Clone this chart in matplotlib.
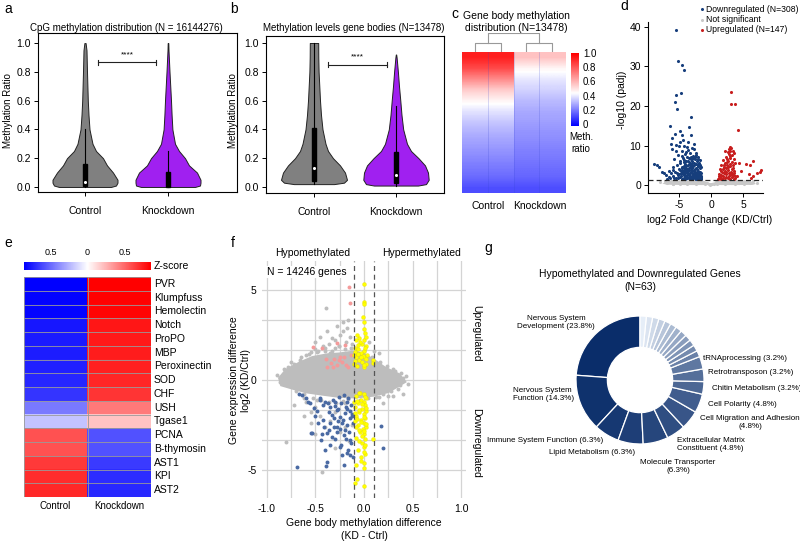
import numpy as np
import matplotlib
matplotlib.use('Agg')
import matplotlib.pyplot as plt
from matplotlib.colors import LinearSegmentedColormap
from matplotlib.patches import Rectangle

plt.rcParams['font.family'] = ['Liberation Sans', 'DejaVu Sans']
plt.rcParams['font.size'] = 7
plt.rcParams['axes.linewidth'] = 0.8

# ---- a: CpG methylation violins ----
cpg_levels = [0, 0.01, 0.03, 0.05, 0.1, 0.15, 0.2, 0.25, 0.3, 0.4, 0.5, 0.6, 0.8, 0.95, 1.0]
cpg_ctrl_w = [26, 31, 32.5, 32.5, 28, 22, 18, 11, 7.5, 4.5, 3.5, 2.8, 2.0, 1.5, 0.6]
cpg_kd_w = [27, 32, 32.5, 32.5, 29, 21, 17, 11, 7, 4.4, 3.6, 3.0, 1.5, 0.5, 0.3]
cpg_ctrl_box = [0.0, 0.01, 0.037, 0.16, 0.40]   # whisker lo, q1, median, q3, whisker hi
cpg_kd_box = [0.0, 0.0, 0.0, 0.106, 0.25]

# ---- b: gene body violins ----
gb_ctrl_levels = [0.02, 0.03, 0.05, 0.1, 0.15, 0.2, 0.25, 0.3, 0.4, 0.5, 0.6, 0.7, 0.8, 0.9, 1.0]
gb_ctrl_w = [20, 30, 33, 31, 26, 19, 14, 11.5, 8.5, 7, 6, 5.3, 4.6, 4.3, 4.2]
gb_kd_levels = [0.01, 0.02, 0.05, 0.1, 0.15, 0.2, 0.25, 0.3, 0.4, 0.5, 0.6, 0.7, 0.8, 0.9, 0.92]
gb_kd_w = [22, 30, 32.7, 32, 29, 22.5, 15, 11, 7.2, 5.5, 4.3, 3.0, 1.9, 0.6, 0.2]
gb_ctrl_box = [0.02, 0.04, 0.135, 0.41, 1.0]
gb_kd_box = [0.01, 0.03, 0.085, 0.24, 0.56]

# ---- c: gene body methylation heatmap (sorted genes, top -> bottom) ----
c_ctrl = [0.93, 0.84, 0.70, 0.56, 0.47, 0.40, 0.35, 0.31, 0.28, 0.25, 0.22, 0.19, 0.14]
c_kd = [0.58, 0.47, 0.41, 0.37, 0.33, 0.30, 0.28, 0.26, 0.24, 0.22, 0.20, 0.18, 0.14]

# ---- d: volcano ----
down_lfc = [-5.4, -5.1, -4.5, -4.2, -4.7, -5.4, -5.7, -5.3, -3.1, -6.4, -3.4, -4.9, -5.7, -4.6, -3.2, -6.1,
            -4.4, -6.3, -5.4, -5.0, -4.2, -6.1, -5.5, -4.6, -3.6, -2.9, -2.6, -3.3, -2.4, -4.0, -5.1, -3.8,
            -2.8, -2.1, -4.4, -3.1, -2.5, -3.6, -4.8, -2.2, -1.9, -2.9, -3.3, -4.1, -5.3, -2.6, -3.9, -2.0,
            -4.6, -3.0, -2.3, -1.8, -3.5, -5.0, -2.7, -4.2, -3.2, -2.1, -1.7, -5.6, -3.8, -2.5, -4.7, -2.9,
            -1.9, -3.4, -4.4, -2.2, -5.2, -3.0, -1.6, -3.9, -2.6, -4.9, -2.0, -3.5, -1.7, -4.3, -2.8, -5.5,
            -3.2, -2.3, -4.0, -1.5, -6.0, -6.6, -7.0, -7.3, -7.6, -8.1, -8.5, -8.9, -6.4, -6.8, -5.8, -3.7,
            -2.7, -4.8, -3.6, -2.3, -1.8, -1.6, -2.4, -3.6, -4.5, -3.3, -2.8, -2.0, -3.4, -4.2, -2.5, -3.8,
            -4.6, -5.0, -1.8, -2.2, -3.1, -4.1, -2.7, -3.7, -2.0, -1.6, -5.9, -6.2]
down_p = [39.3, 31.4, 30.3, 29.0, 23.3, 22.7, 21.0, 19.1, 17.1, 14.9, 14.7, 13.6, 12.9, 12.6, 12.6, 11.8,
          11.5, 10.4, 10.1, 9.8, 9.8, 9.0, 8.6, 8.5, 8.9, 9.3, 9.1, 8.2, 8.0, 7.8, 7.6, 7.2,
          7.4, 7.0, 6.9, 6.6, 6.5, 6.2, 6.0, 6.0, 5.6, 5.7, 5.4, 5.3, 5.2, 5.1, 4.8, 4.9,
          4.6, 4.5, 4.4, 4.2, 4.2, 4.0, 3.9, 3.8, 3.7, 3.6, 3.4, 3.4, 3.3, 3.2, 3.1, 3.0,
          2.9, 2.8, 2.7, 2.6, 2.5, 2.4, 2.4, 2.3, 2.2, 2.1, 2.0, 2.0, 1.8, 1.8, 1.7, 1.7,
          1.6, 1.5, 1.5, 1.5, 2.3, 2.0, 2.6, 3.0, 3.3, 4.6, 5.0, 5.4, 1.8, 1.6, 1.9, 9.6,
          10.5, 11.0, 10.8, 7.6, 6.3, 3.0, 2.9, 3.6, 4.2, 3.1, 4.8, 5.3, 6.9, 5.9, 1.9, 2.6,
          3.5, 2.8, 2.2, 3.3, 2.0, 2.2, 2.7, 1.7, 1.6, 1.9, 3.8, 3.0]
down_more = [(-4.8, 5.5), (-4.3, 6.4), (-3.9, 6.0), (-3.5, 5.8), (-3.0, 6.1), (-2.7, 5.6), (-2.4, 5.4),
             (-2.1, 4.7), (-2.5, 4.1), (-2.9, 4.2), (-3.3, 4.6), (-3.7, 4.0), (-4.1, 4.4), (-4.4, 3.3),
             (-4.0, 3.0), (-3.6, 2.9), (-3.1, 3.3), (-2.6, 3.5), (-2.3, 2.4), (-2.0, 2.7), (-1.8, 3.1),
             (-1.7, 2.6), (-1.9, 1.7), (-2.4, 1.6), (-2.9, 1.9), (-3.3, 2.2), (-3.8, 2.0), (-4.2, 2.5),
             (-4.7, 2.4), (-5.1, 1.8), (-5.3, 3.0), (-4.9, 3.7), (-3.4, 3.9), (-2.2, 4.0), (-1.6, 4.5),
             (-2.8, 6.8), (-3.2, 7.1), (-3.9, 8.3), (-2.5, 7.0), (-2.0, 6.5), (-1.7, 5.0), (-3.6, 5.0),
             (-4.5, 7.3), (-5.8, 6.5), (-6.0, 4.5), (-6.5, 3.6), (-2.1, 1.9), (-2.6, 2.5), (-3.5, 1.7),
             (-4.5, 1.6), (-1.5, 2.1), (-2.9, 3.6), (-3.9, 3.5), (-4.3, 4.9), (-3.1, 5.0)]
up_lfc = [3.1, 3.1, 3.75, 4.2, 3.0, 3.1, 2.8, 2.2, 3.6, 2.6, 3.3, 2.4, 2.9, 3.5, 1.9, 2.7,
          3.2, 2.2, 3.7, 1.6, 2.5, 3.0, 2.0, 3.4, 1.4, 2.7, 2.2, 3.1, 1.7, 3.6, 1.2, 2.4,
          2.9, 1.9, 3.3, 1.4, 2.6, 2.1, 3.0, 1.1, 1.7, 3.5, 4.4, 5.5, 6.6, 6.0, 4.7, 5.9,
          6.5, 7.6, 7.8, 7.2, 6.3, 4.1, 3.8, 2.3, 1.5, 2.8, 3.4]
up_p = [23.4, 20.6, 20.6, 13.9, 9.7, 9.4, 9.0, 8.5, 8.0, 8.3, 7.6, 7.2, 6.9, 6.6, 6.4, 6.2,
        5.9, 5.7, 5.5, 5.2, 5.0, 4.8, 4.5, 4.3, 4.0, 3.9, 3.6, 3.4, 3.2, 3.1, 2.8, 2.7,
        2.5, 2.3, 2.1, 2.0, 1.9, 1.7, 1.6, 1.6, 1.5, 1.5, 5.6, 5.3, 6.0, 5.2, 3.6, 2.7,
        2.2, 3.4, 3.7, 3.0, 1.7, 2.4, 1.8, 4.2, 3.5, 7.8, 8.6]
up_more = [(2.0, 3.0), (2.4, 3.3), (2.8, 3.0), (3.2, 2.7), (1.5, 2.6), (1.9, 1.9), (2.3, 2.0), (2.8, 2.2),
           (3.4, 2.5), (1.3, 1.8), (2.5, 5.8), (3.0, 5.4), (2.0, 5.1), (3.4, 5.1), (2.6, 4.5), (1.8, 4.1),
           (3.2, 4.0), (2.9, 7.3), (3.0, 8.5), (2.5, 6.7), (1.6, 1.6), (1.2, 2.3), (3.6, 3.6), (3.8, 2.4)]
ns_band_x = [-7.6, -7.0, -5.5, -3.0, -1.6, -1.0, -0.5, 0.0, 0.6, 1.0, 1.6, 3.5, 5.5, 6.6, 7.0, 6.5,
             4.0, 1.0, 0.0, -1.0, -4.0, -7.0]
ns_band_y = [0.4, 0.9, 1.2, 1.25, 1.25, 1.0, 0.6, 0.5, 0.7, 1.2, 1.25, 1.25, 1.2, 0.8, 0.3, 0.05,
             0.0, 0.0, 0.0, 0.0, 0.0, 0.1]
ns_lfc = [-7.9, -7.2, -6.8, -6.3, -5.9, -5.6, -5.2, -4.9, -4.6, -4.3, -4.0, -3.7, -3.5, -3.2, -2.9,
          -2.6, -2.3, -2.0, -1.8, -1.5, -1.2, -1.0, -0.7, -0.4, -0.1, 0.2, 0.5, 0.8, 1.0, 1.3,
          1.6, 1.9, 2.2, 2.5, 2.8, 3.1, 3.4, 3.7, 4.0, 4.3, 4.7, 5.1, 5.5, 6.0, 6.6, 7.2, -6.0]
ns_p = [0.9, 1.1, 0.6, 1.0, 0.4, 1.2, 0.8, 0.3, 1.1, 0.6, 1.0, 0.2, 0.8, 1.2, 0.5,
        1.0, 0.3, 0.8, 1.2, 0.5, 0.9, 0.2, 0.6, 0.3, 0.1, 0.2, 0.4, 0.8, 0.3, 1.1,
        0.6, 1.0, 0.2, 0.8, 1.2, 0.5, 1.0, 0.3, 0.9, 0.5, 1.1, 0.4, 0.9, 0.6, 1.0, 0.5, 0.2]

# ---- e: immune gene z-score heatmap ----
genes = ['PVR', 'Klumpfuss', 'Hemolectin', 'Notch', 'ProPO', 'MBP', 'Peroxinectin', 'SOD', 'CHF',
         'USH', 'Tgase1', 'PCNA', 'B-thymosin', 'AST1', 'KPI', 'AST2']
z_ctrl = [-0.86, -0.85, -0.84, -0.78, -0.77, -0.76, -0.75, -0.73, -0.68, -0.45, -0.2,
          0.58, 0.58, 0.66, 0.71, 0.72]
z_kd = [0.86, 0.85, 0.84, 0.78, 0.77, 0.76, 0.75, 0.73, 0.68, 0.45, 0.2,
        -0.58, -0.58, -0.66, -0.71, -0.72]

# ---- f: methylation vs expression ----
blob_x = [-0.87, -0.80, -0.66, -0.53, -0.38, -0.25, -0.11, -0.01, 0.10, 0.22, 0.36, 0.42, 0.25, 0.10,
          -0.08, -0.25, -0.42, -0.59, -0.73, -0.85]
blob_y = [0.10, 0.55, 0.95, 1.25, 1.40, 1.45, 1.55, 1.45, 1.10, 0.65, 0.30, -0.10, -0.65, -0.85,
          -0.95, -0.92, -0.80, -0.67, -0.47, -0.28]
grey_dx = [-0.55, -0.50, -0.47, -0.42, -0.36, -0.33, -0.30, -0.25, -0.22, -0.18, -0.16, -0.14, -0.12,
           -0.40, -0.30, -0.20, -0.35, -0.60, -0.66, -0.72, -0.78, -0.60, -0.50, -0.45, -0.40, -0.35,
           -0.30, -0.25, -0.20, -0.15, -0.55, -0.80, -0.43, 0.25, 0.35, 0.43, 0.30, 0.40, 0.10, 0.05,
           -0.39, -0.70, -0.62, -0.48, 0.15, -0.26, -0.12]
grey_dy = [1.55, 1.70, 1.60, 1.90, 2.00, 2.30, 2.20, 2.50, 2.70, 2.90, 3.30, 2.40, 2.00,
           1.60, 1.80, 1.70, 1.50, 1.40, 1.10, 0.90, 0.70, -1.20, -1.50, -2.00, -2.60, -2.30,
           -1.80, -2.90, -1.30, -3.40, -1.80, -3.43, -5.10, -0.90, -0.50, 0.20, 0.60, -0.78, 1.60, 2.10,
           3.98, -0.30, -1.00, -1.10, -0.95, 1.90, -2.50]
grey_more = [(-0.9, 0.3), (-0.86, -0.1), (-0.82, 0.6), (-0.75, 1.0), (-0.7, -0.6), (-0.65, 1.25),
             (-0.62, -0.8), (-0.57, 1.45), (-0.52, -1.0), (-0.48, 1.55), (-0.44, -1.1), (-0.4, 1.75),
             (-0.36, -1.2), (-0.33, 1.6), (-0.29, -1.3), (-0.26, 1.9), (-0.22, -1.15), (-0.19, 2.1),
             (-0.16, -1.05), (-0.13, 1.8), (-0.1, -1.3), (-0.07, 1.7), (-0.04, -1.1), (0.0, 1.6),
             (0.04, -1.0), (0.08, 1.3), (0.12, -0.95), (0.16, 1.0), (0.2, -0.8), (0.24, 0.8), (0.28, -0.6),
             (0.32, 0.5), (0.37, -0.3), (0.4, 0.1), (0.45, -0.2), (0.38, 0.4), (0.3, -0.9), (0.2, -1.3),
             (0.15, 1.5), (-0.5, 2.1), (-0.45, 2.4), (-0.38, 2.7), (-0.28, 3.0), (-0.22, 3.2),
             (-0.55, -2.4), (-0.5, -3.0), (-0.3, -3.8), (-0.2, -2.6), (-0.62, -2.0), (-0.72, -1.4)]
pink_dx = [-0.15, -0.14, -0.43, -0.28, -0.20, -0.39, -0.31, -0.26, -0.25, -0.23, -0.28, -0.19, -0.16,
           -0.38, -0.34, -0.21, -0.52, -0.32, -0.13]
pink_dy = [5.15, 4.26, 1.80, 2.07, 1.95, 1.17, 1.17, 1.11, 1.26, 1.02, 0.83, 0.83, 0.74,
           0.74, 0.93, 1.26, 1.81, 0.74, 1.39]
blue_dx = [-0.67, -0.51, -0.42, -0.37, -0.32, -0.26, -0.21, -0.16, -0.13, -0.28, -0.33, -0.25, -0.20,
           -0.14, -0.11, -0.23, -0.28, -0.35, -0.42, -0.47, -0.54, -0.44, -0.38, -0.33, -0.28, -0.21,
           -0.14, -0.13, -0.20, -0.40, -0.38, -0.39, -0.23, -0.18, -0.14, -0.11, -0.21, -0.69, -0.64,
           -0.55, 0.18, 0.20, -0.58, -0.45, -0.30, -0.17, -0.12, -0.24]
blue_dy = [-0.78, -1.57, -1.39, -1.30, -1.11, -0.93, -0.83, -1.02, -1.39, -1.67, -1.94, -2.04, -1.85,
           -2.13, -2.41, -2.41, -2.59, -2.41, -2.22, -2.41, -2.96, -3.33, -2.96, -3.15, -2.87, -3.06,
           -3.33, -3.52, -2.78, -3.89, -4.54, -4.78, -4.17, -4.07, -4.17, -4.26, -4.72, -4.85, -0.83,
           -2.93, -2.56, -3.80, -1.20, -1.10, -1.45, -1.60, -1.90, -3.60]
blue_more = [(-0.45, -1.0), (-0.4, -1.2), (-0.35, -1.5), (-0.3, -1.2), (-0.27, -1.6), (-0.24, -1.3),
             (-0.19, -1.5), (-0.17, -1.2), (-0.14, -1.7), (-0.12, -2.0), (-0.36, -1.8), (-0.31, -2.1),
             (-0.27, -2.3), (-0.22, -2.2), (-0.18, -2.5), (-0.15, -2.9), (-0.41, -2.6), (-0.36, -2.8),
             (-0.31, -2.6), (-0.25, -2.7), (-0.5, -2.0), (-0.56, -1.3), (-0.48, -1.7), (-0.43, -3.0),
             (-0.3, -3.3), (-0.25, -3.7), (-0.19, -3.3), (-0.16, -3.9), (-0.35, -3.6), (-0.6, -1.0)]
yel_dx = [0.0, 0.0, 0.0, -0.01, 0.0, 0.0, 0.01, -0.05, -0.08, 0.0, -0.02, 0.02, -0.09, -0.06, 0.0,
          -0.03, 0.03, -0.08, 0.01, -0.05, 0.09, 0.09, -0.02, 0.02, -0.07, 0.0, -0.04, 0.0, -0.08,
          0.02, -0.03, 0.0, -0.06, 0.01, -0.09, -0.02, 0.02, -0.05, 0.0, -0.08, 0.01, -0.03, -0.09,
          0.0, -0.06, 0.02, -0.01, -0.04, 0.0, -0.08, 0.01, -0.02, 0.0, -0.06, 0.01, -0.03, 0.0,
          -0.08, 0.0, -0.09, -0.07, 0.0, 0.09, -0.1, -0.1, -0.1]
yel_dy = [5.3, 4.3, 4.2, 3.5, 3.2, 2.8, 2.6, 2.3, 2.2, 2.2, 2.0, 1.9, 1.8, 1.7, 1.6,
          1.5, 1.4, 1.3, 1.2, 1.1, 1.1, 0.95, 1.0, 0.9, 0.8, 0.7, -0.7, -0.8, -0.9,
          -1.0, -1.1, -1.2, -1.3, -1.4, -1.5, -1.6, -1.7, -1.8, -1.9, -2.0, -2.1, -2.2, -2.3,
          -2.4, -2.5, -2.6, -2.7, -2.9, -3.0, -3.2, -3.3, -3.5, -3.7, -3.9, -4.1, -4.3, -4.6,
          -4.7, -4.9, -5.7, -5.5, -5.9, -3.3, 1.4, 0.9, -1.2]
yel_more = [(-0.07, 2.5), (-0.04, 2.1), (0.02, 2.4), (-0.06, 1.95), (0.01, 1.75), (-0.09, 1.55),
            (-0.01, 1.35), (0.02, 1.15), (-0.06, 1.45), (-0.03, 1.25), (-0.09, 1.05), (0.0, 0.85),
            (-0.05, -0.75), (0.01, -0.95), (-0.07, -1.15), (-0.02, -1.35), (0.02, -1.55), (-0.05, -1.65),
            (-0.09, -1.85), (0.0, -2.05), (-0.03, -2.35), (-0.07, -2.15), (0.02, -2.45), (-0.05, -2.75),
            (0.0, -2.85), (-0.08, -2.6), (-0.02, -3.1), (0.01, -3.6), (-0.05, -3.4), (0.0, -4.0),
            (-0.03, -4.5)]

# ---- g: GO categories of hypomethylated & downregulated genes ----
go_labels = ['Nervous System\nDevelopment (23.8%)', 'Nervous System\nFunction (14.3%)',
             'Immune System Function (6.3%)', 'Lipid Metabolism (6.3%)',
             'Molecule Transporter\n(6.3%)', 'Extracellular Matrix\nConstituent (4.8%)',
             'Cell Migration and Adhesion\n(4.8%)', 'Cell Polarity (4.8%)',
             'Chitin Metabolism (3.2%)', 'Retrotransposon (3.2%)', 'tRNAprocessing (3.2%)']
go_counts = [15, 9, 4, 4, 4, 3, 3, 3, 2, 2, 2] + [1] * 12

W, H = 800, 541
fig = plt.figure(figsize=(8, 5.41), dpi=100)


def add_ax(x0, y0, x1, y1):
    return fig.add_axes([x0 / W, 1 - y1 / H, (x1 - x0) / W, (y1 - y0) / H])


def ftext(x, y, s, **kw):
    kw.setdefault('ha', 'center')
    kw.setdefault('va', 'center')
    fig.text(x / W, 1 - y / H, s, **kw)


def violin(ax, pos, levels, widths, ppu, color, box):
    hw = np.array(widths) / ppu
    lv = np.array(levels)
    ax.fill_betweenx(lv, pos - hw, pos + hw, facecolor=color, edgecolor='#222222', lw=0.7, zorder=2)
    ax.plot([pos, pos], [box[0], box[4]], color='black', lw=0.8, zorder=3)
    bw = 4.5 / ppu
    ax.add_patch(Rectangle((pos - bw / 2, box[1]), bw, box[3] - box[1], color='black', zorder=3))
    if box[2] > box[1]:
        ax.scatter([pos], [box[2]], s=5, color='white', zorder=4, linewidths=0)


def sig_bar(ax, x1, x2, y, h=0.018):
    ax.plot([x1, x2], [y, y], color='#222222', lw=0.8)
    ax.plot([x1, x1], [y - h, y + h], color='#222222', lw=0.8)
    ax.plot([x2, x2], [y - h, y + h], color='#222222', lw=0.8)
    ax.text((x1 + x2) / 2, y + 0.055, '****', ha='center', va='center', fontsize=6)


def style_violin_ax(ax):
    ax.set_yticks([0, 0.2, 0.4, 0.6, 0.8, 1.0])
    ax.set_yticklabels(['0.0', '0.2', '0.4', '0.6', '0.8', '1.0'], fontsize=7.5)
    ax.set_xticks([1, 2])
    ax.set_xticklabels(['Control', 'Knockdown'], fontsize=7.5)
    ax.tick_params(length=3, width=0.7, pad=7)
    ax.tick_params(axis='y', pad=2)


# panel a
ax_a = add_ax(38, 33, 237, 192)
violin(ax_a, 1, cpg_levels, cpg_ctrl_w, 83, '#808080', cpg_ctrl_box)
violin(ax_a, 2, cpg_levels, cpg_kd_w, 83, '#a020f0', cpg_kd_box)
sig_bar(ax_a, 1.157, 1.855, 0.865)
ax_a.set_xlim(1 - 47 / 83, 2 + 69 / 83)
ax_a.set_ylim(-0.035, 1.07)
style_violin_ax(ax_a)
ftext(126, 28, 'CpG methylation distribution (N = 16144276)', fontsize=7)
ftext(8, 111, 'Methylation Ratio', rotation=90, fontsize=7)

# panel b
ax_b = add_ax(266, 36, 444, 193)
violin(ax_b, 1, gb_ctrl_levels, gb_ctrl_w, 82, '#808080', gb_ctrl_box)
violin(ax_b, 2, gb_kd_levels, gb_kd_w, 82, '#a020f0', gb_kd_box)
sig_bar(ax_b, 1.17, 1.89, 0.85)
ax_b.set_xlim(1 - 48 / 82, 2 + 48 / 82)
ax_b.set_ylim((187 - 193) / 144, (187 - 36) / 144)
style_violin_ax(ax_b)
ftext(354, 28, 'Methylation levels gene bodies (N=13478)', fontsize=7)
ftext(233, 111, 'Methylation Ratio', rotation=90, fontsize=7)

# panel c
meth_cmap = LinearSegmentedColormap.from_list('meth', [(0, '#0000ff'), (0.45, '#ffffff'), (1, '#ff0000')])
ax_c = add_ax(462, 52, 565, 193)
ax_c.imshow(np.array(c_ctrl)[:, None], extent=[0, 2, 1, 0], aspect='auto', cmap=meth_cmap,
            vmin=0, vmax=1, interpolation='bilinear')
ax_c.imshow(np.array(c_kd)[:, None], extent=[2, 4, 1, 0], aspect='auto', cmap=meth_cmap,
            vmin=0, vmax=1, interpolation='bilinear')
for xv in [1, 2, 3]:
    ax_c.axvline(xv, color='#3344cc', lw=0.4, alpha=0.35)
ax_c.set_xlim(0, 4)
ax_c.set_ylim(1, 0)
ax_c.axis('off')
ftext(488, 206, 'Control', fontsize=7.5)
ftext(540, 206, 'Knockdown', fontsize=7.5)
ftext(516, 16, 'Gene body methylation', fontsize=7.5)
ftext(516, 28, 'distribution (N=13478)', fontsize=7.5)

ax_dend = add_ax(462, 33, 565, 52)
dc = '#999999'
ax_dend.plot([0.5, 0.5, 1.5, 1.5], [0, 0.5, 0.5, 0], color=dc, lw=0.8)
ax_dend.plot([2.5, 2.5, 3.5, 3.5], [0, 0.5, 0.5, 0], color=dc, lw=0.8)
ax_dend.plot([1.0, 1.0, 3.0, 3.0], [0.5, 1.0, 1.0, 0.5], color=dc, lw=0.8)
ax_dend.set_xlim(0, 4)
ax_dend.set_ylim(0, 1.02)
ax_dend.axis('off')

ax_ccb = add_ax(571, 53, 579, 126)
ax_ccb.imshow(np.linspace(1, 0, 100)[:, None], extent=[0, 1, 0, 1], aspect='auto', cmap=meth_cmap,
              vmin=0, vmax=1)
ax_ccb.axis('off')
for val, lab in zip([1.0, 0.8, 0.6, 0.4, 0.2, 0.0], ['1.0', '0.8', '0.6', '0.4', '0.2', '0']):
    ftext(583, 125 - val * 71, lab, ha='left', fontsize=7)
ftext(581, 137, 'Meth.', fontsize=7)
ftext(581, 149, 'ratio', fontsize=7)

# panel d
ax_d = add_ax(648, 22, 763, 193)
ax_d.fill(ns_band_x, ns_band_y, color='#c8c8c8', lw=0, zorder=1)
ax_d.scatter(ns_lfc, ns_p, s=5, color='#c8c8c8', linewidths=0, zorder=1)
dmx, dmy = zip(*down_more)
umx, umy = zip(*up_more)
ax_d.scatter(list(down_lfc) + list(dmx), list(down_p) + list(dmy), s=5, color='#163e7c',
             linewidths=0, zorder=2)
ax_d.scatter(list(up_lfc) + list(umx), list(up_p) + list(umy), s=5, color='#c81e1e',
             linewidths=0, zorder=2)
ax_d.axhline(-np.log10(0.05), color='#222222', lw=0.9, ls=(0, (4, 2.5)), zorder=3)
ax_d.set_xlim(-9.84, 8.1)
ax_d.set_ylim(-2.0, 41.2)
ax_d.spines['top'].set_visible(False)
ax_d.spines['right'].set_visible(False)
ax_d.set_xticks([-5, 0, 5])
ax_d.set_xticklabels(['-5', '0', '5'], fontsize=7.5)
ax_d.set_yticks([0, 10, 20, 30, 40])
ax_d.set_yticklabels(['0', '10', '20', '30', '40'], fontsize=7.5)
ax_d.tick_params(length=3, width=0.7, pad=2)
ftext(710, 220, 'log2 Fold Change (KD/Ctrl)', fontsize=7.5)
ftext(622, 100, '-log10 (padj)', rotation=90, fontsize=7.5)
for yy, lab, col in [(9, 'Downregulated (N=308)', '#163e7c'), (19.5, 'Not significant', '#c8c8c8'),
                     (30, 'Upregulated (N=147)', '#c81e1e')]:
    ax_d.plot([702 / W], [1 - yy / H], 'o', ms=2.2, color=col, mec='none',
              transform=fig.transFigure, clip_on=False)
    ftext(706, yy, lab, ha='left', fontsize=6.2)

# panel e
ecmap = plt.get_cmap('bwr')
ax_e = add_ax(24, 277, 151, 497)
ax_e.imshow(np.column_stack([z_ctrl, z_kd]), cmap=ecmap, vmin=-0.86, vmax=0.86, aspect='auto',
            interpolation='nearest', extent=[0, 2, len(genes), 0])
for i in range(len(genes) + 1):
    ax_e.axhline(i, color='#9a9a9a', lw=0.6)
for xv in [0, 1, 2]:
    ax_e.axvline(xv, color='#9a9a9a', lw=0.6)
ax_e.set_xlim(0, 2)
ax_e.set_ylim(len(genes), 0)
ax_e.axis('off')
row_h = (497 - 277) / len(genes)
for i, g in enumerate(genes):
    ftext(154, 277 + (i + 0.5) * row_h, g, ha='left', fontsize=7.5)
ftext(55, 506, 'Control', fontsize=7)
ftext(119, 506, 'Knockdown', fontsize=7)

ax_ecb = add_ax(24, 262, 151, 270)
ax_ecb.imshow(np.linspace(-0.86, 0.86, 200)[None, :], cmap=ecmap, vmin=-0.86, vmax=0.86,
              aspect='auto', extent=[-0.86, 0.86, 0, 1])
ax_ecb.axis('off')
for xv, lab in [(-0.5, '0.5'), (0, '0'), (0.5, '0.5')]:
    ftext(87.5 + xv * 73.8, 253, lab, fontsize=6.5)
ftext(154, 266, 'Z-score', ha='left', fontsize=7.5)

# panel f
ax_f = add_ax(262, 261, 466, 498)
for xv in np.arange(-1.0, 1.01, 0.25):
    ax_f.axvline(xv, color='#d4d4d4', lw=0.9, zorder=0)
for yv in [-5, -10 / 3, -5 / 3, 0, 5 / 3, 10 / 3, 5]:
    ax_f.axhline(yv, color='#d4d4d4', lw=0.9, zorder=0)
gmx, gmy = zip(*grey_more)
bmx, bmy = zip(*blue_more)
ymx, ymy = zip(*yel_more)
ax_f.fill(blob_x, blob_y, color='#bdbdbd', lw=2, ec='#bdbdbd', zorder=1)
ax_f.scatter(list(grey_dx) + list(gmx), list(grey_dy) + list(gmy), s=8, color='#bdbdbd',
             linewidths=0, zorder=1)
ax_f.scatter(pink_dx, pink_dy, s=8, color='#f49a9a', linewidths=0, zorder=2)
ax_f.scatter(list(blue_dx) + list(bmx), list(blue_dy) + list(bmy), s=8, color='#4a6aa3',
             linewidths=0, zorder=2)
ax_f.scatter(list(yel_dx) + list(ymx), list(yel_dy) + list(ymy), s=8, color='#ffff00',
             edgecolors='#e0d000', linewidths=0.2, zorder=3)
for xv in [-0.1, 0.1]:
    ax_f.axvline(xv, color='#555555', lw=0.9, ls=(0, (4, 3)), zorder=4)
ax_f.set_xlim(-1.05, 1.05)
ax_f.set_ylim(-6.55, 6.6)
for sp in ax_f.spines.values():
    sp.set_visible(False)
ax_f.set_xticks([-1, -0.5, 0, 0.5, 1])
ax_f.set_xticklabels(['-1.0', '-0.5', '0.0', '0.5', '1.0'], fontsize=7.5)
ax_f.set_yticks([-5, 0, 5])
ax_f.set_yticklabels(['-5', '0', '5'], fontsize=7.5)
ax_f.tick_params(length=0, pad=4)
ax_f.text(-1.0, 6.0, 'N = 14246 genes', fontsize=7.5, ha='left', va='center',
          bbox=dict(facecolor='white', edgecolor='none', pad=0.6), zorder=5)
ftext(313, 253, 'Hypomethylated', fontsize=7.5)
ftext(422, 253, 'Hypermethylated', fontsize=7.5)
ftext(476, 333, 'Upregulated', rotation=270, fontsize=7.5)
ftext(476, 443, 'Downregulated', rotation=270, fontsize=7.5)
ftext(234, 380, 'Gene expression difference', rotation=90, fontsize=7.5)
ftext(246, 380, 'log2 (KD/Ctrl)', rotation=90, fontsize=7.5)
ftext(364, 523, 'Gene body methylation difference', fontsize=7.5)
ftext(364, 536, '(KD - Ctrl)', fontsize=7.5)

# panel g
ax_g = add_ax(576, 316, 704, 444)
gcmap = LinearSegmentedColormap.from_list('go', ['#0a2d6a', '#e6eef8'])
gcols = [gcmap(t) for t in np.linspace(0, 1, len(go_counts)) ** 1.2]
ax_g.pie(go_counts, colors=gcols, startangle=90, counterclock=True, radius=1,
         wedgeprops=dict(width=0.49, edgecolor='white', linewidth=0.9))
ax_g.set_xlim(-1, 1)
ax_g.set_ylim(-1, 1)
ftext(640, 274, 'Hypomethylated and Downregulated Genes', fontsize=7.5)
ftext(640, 287, '(N=63)', fontsize=7.5)
g_pos = [(556, 322, 'center'), (513, 394, 'left'), (603, 441, 'right'), (549, 453, 'left'),
         (678, 467, 'center'), (677, 445, 'left'), (750, 423, 'center'), (708, 404, 'left'),
         (712, 388, 'left'), (708, 373, 'left'), (703, 358, 'left')]
for lab, (px, py, al) in zip(go_labels, g_pos):
    ftext(px, py, lab, ha=al, fontsize=5.8, multialignment=al)

# panel letters
for lx, ly, lt in [(8, 9, 'a'), (234, 9, 'b'), (455, 14, 'c'), (624, 6, 'd'),
                   (8, 243, 'e'), (233, 243, 'f'), (488, 248, 'g')]:
    ftext(lx, ly, lt, fontsize=10)

fig.savefig('out.png', dpi=100)
